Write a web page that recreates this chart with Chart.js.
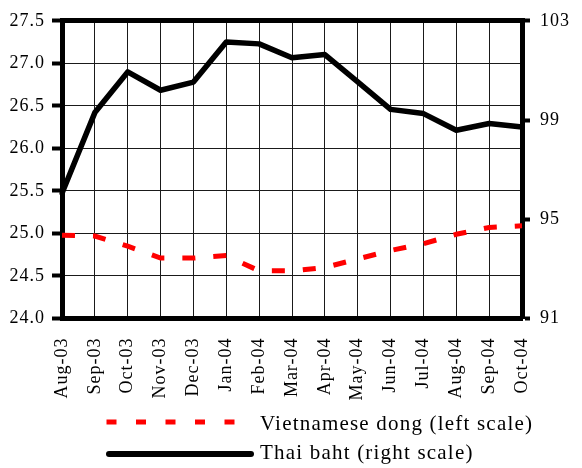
<!DOCTYPE html>
<html><head><meta charset="utf-8">
<style>html,body{margin:0;padding:0;background:#fff}#wrap{width:582px;height:468px;position:relative}</style>
<script src="https://cdn.jsdelivr.net/npm/chart.js@4/dist/chart.umd.min.js"></script>
</head><body><div id="wrap"><canvas id="c" width="582" height="468"></canvas></div>
<script>
const categories = ['Aug-03','Sep-03','Oct-03','Nov-03','Dec-03','Jan-04','Feb-04','Mar-04','Apr-04','May-04','Jun-04','Jul-04','Aug-04','Sep-04','Oct-04'];
const dongValues = [24.98,24.97,24.85,24.71,24.71,24.74,24.56,24.56,24.60,24.70,24.80,24.88,24.99,25.07,25.09];
const bahtValues = [96.05,99.30,100.94,100.20,100.53,102.15,102.07,101.51,101.64,100.54,99.43,99.26,98.59,98.86,98.72];
const seriesNames = ['Vietnamese dong (left scale)','Thai baht (right scale)'];
const leftAxis = {min:24, max:27.5, step:0.5};
const rightAxis = {min:91, max:103, step:4};

const FONT = {family:'"Liberation Serif", "Times New Roman", serif', size:18};

const spacingPlugin = {
  id:'spacing',
  beforeDraw(chart){ chart.ctx.letterSpacing = '1px'; }
};
const legendPlugin = {
  id:'customLegend',
  afterDraw(chart){
    const ctx = chart.ctx;
    const ds = chart.data.datasets;
    ctx.save();
    ctx.beginPath();
    ctx.setLineDash([10,19.5]);
    ctx.lineCap = 'butt';
    ctx.strokeStyle = ds[0].borderColor;
    ctx.lineWidth = 5;
    ctx.moveTo(106.5,422); ctx.lineTo(236,422);
    ctx.stroke();
    ctx.beginPath();
    ctx.setLineDash([]);
    ctx.lineCap = 'round';
    ctx.strokeStyle = ds[1].borderColor;
    ctx.lineWidth = 6;
    ctx.moveTo(109,454); ctx.lineTo(251,454);
    ctx.stroke();
    ctx.fillStyle = '#000';
    ctx.letterSpacing = '1.2px';
    ctx.font = '21px "Liberation Serif", "Times New Roman", serif';
    ctx.textBaseline = 'alphabetic';
    ctx.textAlign = 'left';
    ctx.fillText(ds[0].label, 260, 430);
    ctx.fillText(ds[1].label, 260, 459);
    ctx.restore();
  }
};

new Chart(document.getElementById('c'), {
  type:'line',
  data:{
    labels:categories,
    datasets:[
      {label:seriesNames[0], data:dongValues, yAxisID:'y', borderColor:'#ff0000', borderWidth:5,
       borderDash:[13,18], borderCapStyle:'butt', pointRadius:0, tension:0, fill:false},
      {label:seriesNames[1], data:bahtValues, yAxisID:'y1', borderColor:'#000000', borderWidth:5.5,
       borderJoinStyle:'round', borderCapStyle:'round', pointRadius:0, tension:0, fill:false}
    ]
  },
  options:{
    responsive:false, animation:false, devicePixelRatio:1,
    layout:{padding:{top:19.5,left:0,right:0,bottom:0}},
    plugins:{legend:{display:false}, tooltip:{enabled:false}},
    scales:{
      x:{type:'category', offset:false,
         grid:{color:'#1a1a1a', lineWidth:1, drawTicks:false},
         border:{display:true, color:'#000', width:5},
         ticks:{font:FONT, color:'#000', minRotation:90, maxRotation:90, autoSkip:false, padding:19},
         afterFit(s){ s.height = 149.5; }},
      y:{position:'left', min:leftAxis.min, max:leftAxis.max,
         ticks:{stepSize:leftAxis.step, font:FONT, color:'#000', padding:7, callback:v=>Number(v).toFixed(1)},
         grid:{color:c=> (c.tick && c.tick.value===leftAxis.max) ? '#000' : '#1a1a1a',
               lineWidth:c=> (c.tick && c.tick.value===leftAxis.max) ? 5 : 1,
               tickLength:10, tickWidth:4, tickColor:'#000'},
         border:{display:true, color:'#000', width:5},
         afterFit(s){ s.width = 62; }},
      y1:{position:'right', min:rightAxis.min, max:rightAxis.max,
         ticks:{stepSize:rightAxis.step, font:FONT, color:'#000', padding:10},
         grid:{drawOnChartArea:false, tickLength:8, tickWidth:4, tickColor:'#000'},
         border:{display:true, color:'#000', width:5},
         afterFit(s){ s.width = 60; }}
    }
  },
  plugins:[spacingPlugin, legendPlugin]
});
</script></body></html>
